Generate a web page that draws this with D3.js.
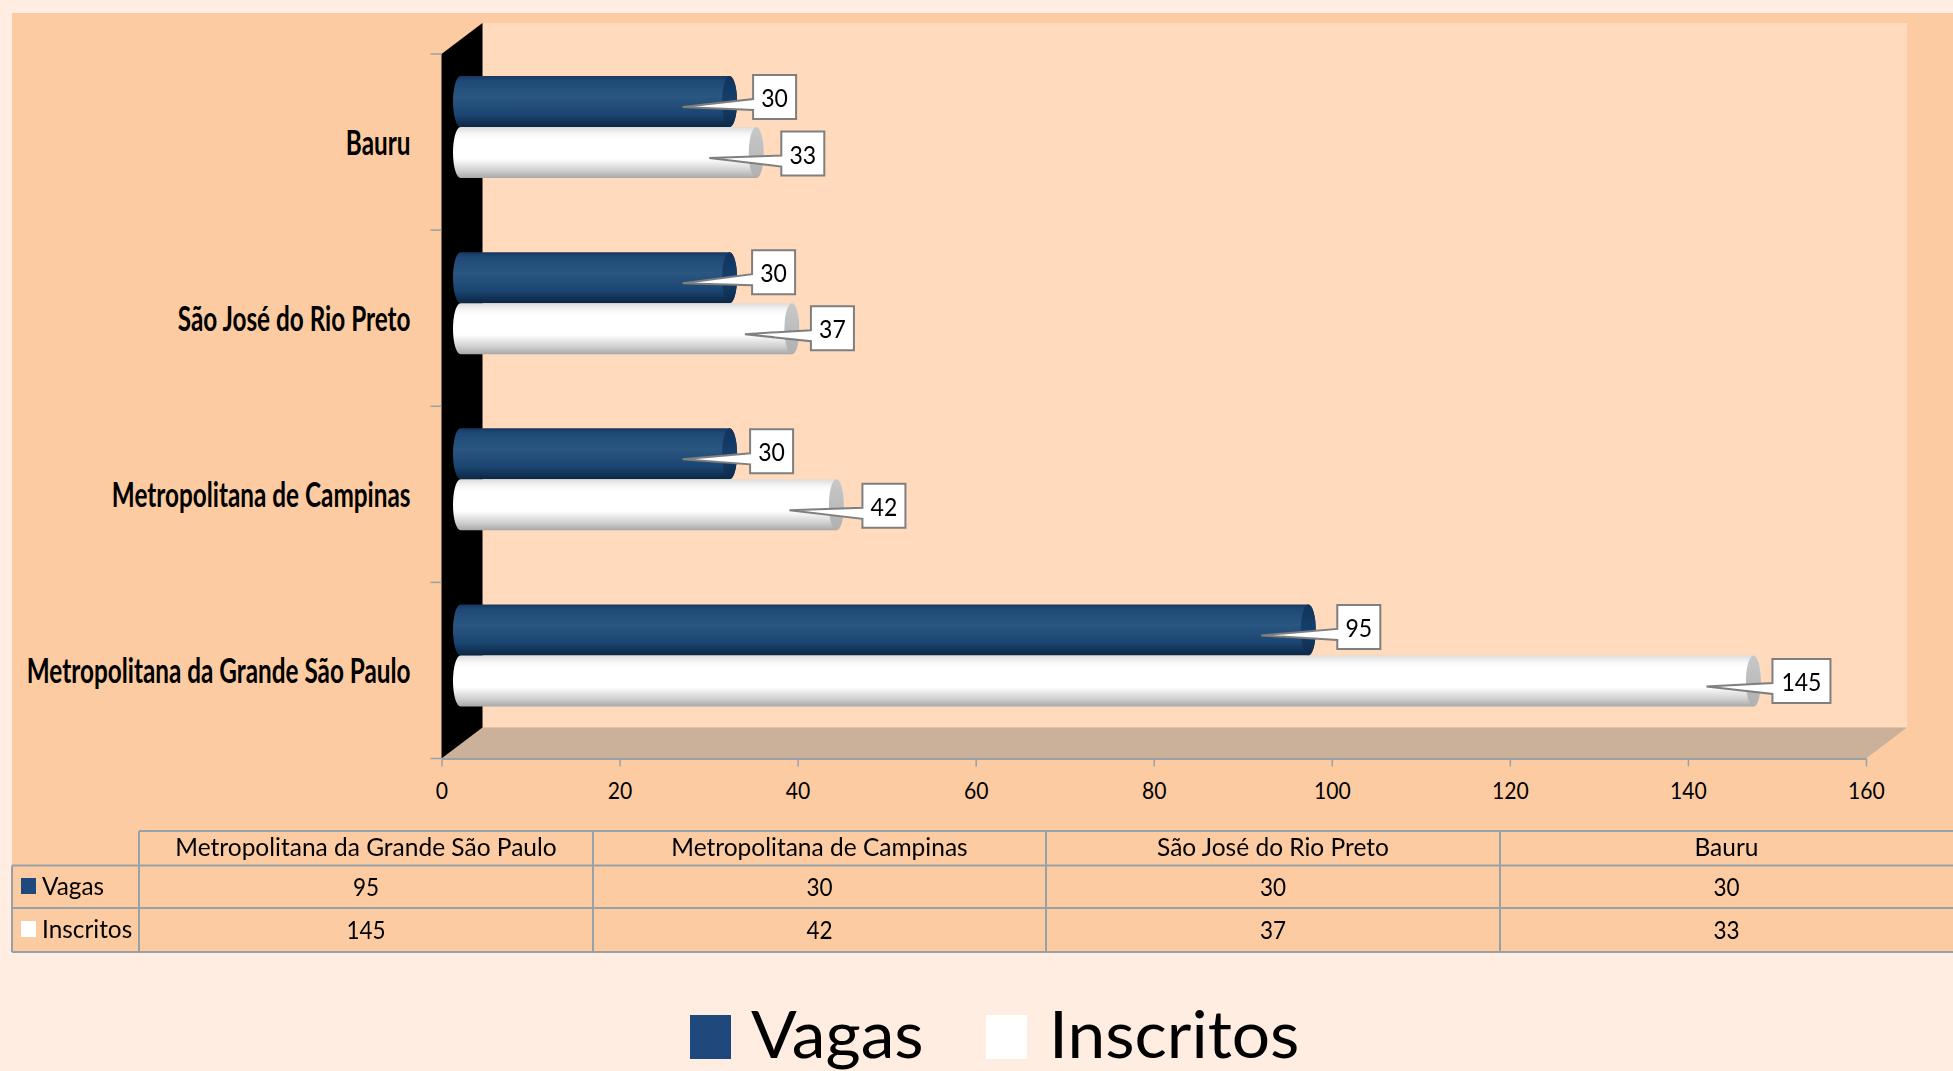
<!DOCTYPE html>
<html><head><meta charset="utf-8">
<script src="https://d3js.org/d3.v7.min.js"></script>
<style>
html,body{margin:0;padding:0;background:#FEEDE0;overflow:hidden}
svg{display:block;filter:blur(0.5px)}
text{font-family:Lato,"Open Sans",sans-serif;fill:#000}
</style></head><body><svg id="c" width="1953" height="1071"></svg>
<script>
const categories = ["Bauru","São José do Rio Preto","Metropolitana de Campinas","Metropolitana da Grande São Paulo"];
const seriesNames = ["Vagas","Inscritos"];
const vagas = [30,30,30,95];
const inscritos = [33,37,42,145];
const xTicks = [0,20,40,60,80,100,120,140,160];
const tableOrder = ["Metropolitana da Grande São Paulo","Metropolitana de Campinas","São José do Rio Preto","Bauru"];
// hand-placed callout nudges, one per bar: [box dx from value, box dy from bar centre]
const calloutVagas = [[44.5,-4.5],[43.5,-5.5],[41.5,-2.5],[50,-3]];
const calloutInscritos = [[46,1],[40,-.5],[47,1],[40,0]];

const colors = {page:"#FEEDE0",chart:"#FDCBA1",wall:"#FFDABC",floor:"#CBB09A",rule:"#98A1A8",navy:"#1F497D"};
const svg = d3.select("#c");
const defs = svg.append("defs");
function grad(id,stops){
  const g=defs.append("linearGradient").attr("id",id).attr("x1",0).attr("x2",0).attr("y1",0).attr("y2",1);
  stops.forEach(([o,c])=>g.append("stop").attr("offset",o).attr("stop-color",c));
}
grad("gVagas",[[0,"#17385f"],[.1,"#1f4a78"],[.4,"#2a5682"],[.75,"#1c4672"],[.93,"#0f2e50"],[1,"#0d2742"]]);
grad("gInscritos",[[0,"#dcdcdc"],[.14,"#f8f8f8"],[.25,"#fff"],[.62,"#fff"],[.85,"#d0d0d0"],[1,"#a8a8a8"]]);
grad("gCapV",[[0,"#10335a"],[.5,"#15406c"],[1,"#0d2a4a"]]);
grad("gCapI",[[0,"#c8c8c8"],[.5,"#bdbdbd"],[1,"#b0b0b0"]]);

const x = d3.scaleLinear().domain([0,160]).range([441.5,1866]);
const y = d3.scaleBand().domain(categories).range([54,758.5]);
const barH = 51, depthX = 41, depthY = 31;
const sub = d3.scaleBand().domain(seriesNames).range([-barH,barH]);
const x0 = x(0), yTop = y.range()[0], yBot = y.range()[1];

// backgrounds
svg.append("rect").attr("x",12).attr("y",13).attr("width",1941).attr("height",939.5).attr("fill",colors.chart);
svg.append("rect").attr("x",x0+depthX).attr("y",yTop-depthY).attr("width",x(160)-x0).attr("height",yBot-yTop).attr("fill",colors.wall);
const line=d3.line();
svg.append("path").attr("fill",colors.floor).attr("d",line([[x0,yBot],[x0+depthX,yBot-depthY],[x(160)+depthX,yBot-depthY],[x(160),yBot]])+"Z");
svg.append("path").attr("fill","#000").attr("d",line([[x0,yTop],[x0+depthX,yTop-depthY],[x0+depthX,yBot-depthY],[x0,yBot]])+"Z");

// axes
const ax = svg.append("g").attr("transform",`translate(0,${yBot})`)
  .call(d3.axisBottom(x).tickValues(xTicks).tickSize(8).tickSizeOuter(0).tickPadding(15));
ax.select(".domain").attr("stroke",colors.rule).attr("stroke-width",2);
ax.selectAll("line").attr("stroke",colors.rule).attr("stroke-width",1.5);
ax.selectAll("text").attr("font-size",24).attr("font-family","Lato").attr("fill","#000")
  .each(function(){d3.select(this).attr("textLength",this.getComputedTextLength()*.88).attr("lengthAdjust","spacingAndGlyphs")});

const ay = svg.append("g").attr("transform",`translate(${x0},0)`)
  .call(d3.axisLeft(y).tickSize(0).tickPadding(31));
ay.select(".domain").remove();
ay.selectAll("text").attr("font-size",34).attr("font-weight",700).attr("font-family","Lato").attr("fill","#000").attr("y",2)
  .each(function(){d3.select(this).attr("textLength",this.getComputedTextLength()*.715).attr("lengthAdjust","spacingAndGlyphs")});
svg.append("g").selectAll("line").data(d3.range(y.domain().length+1)).join("line")
  .attr("x1",x0-11).attr("x2",x0).attr("y1",i=>yTop+i*y.step()).attr("y2",i=>yTop+i*y.step())
  .attr("stroke",colors.rule).attr("stroke-width",1.5);

// bars
const barStart = x0+11.5, barEndOff = 28.5, capRx = 7.5;
const rows = [];
categories.forEach((c,i)=>{
  rows.push({c,s:"Vagas",v:vagas[i],off:calloutVagas[i]});
  rows.push({c,s:"Inscritos",v:inscritos[i],off:calloutInscritos[i]});
});
const barTop = d=>y(d.c)+y.bandwidth()/2-15+sub(d.s);
const bars = svg.append("g").selectAll("g").data(rows).join("g");
bars.append("path").attr("fill",d=>d.s==="Vagas"?"url(#gVagas)":"url(#gInscritos)")
  .attr("d",d=>{
    const t=barTop(d), r=x(d.v)+barEndOff-capRx, b=t+barH;
    return `M${barStart+capRx},${t}H${r}A${capRx},${barH/2} 0 0 1 ${r},${b}H${barStart+capRx}A${capRx},${barH/2} 0 0 1 ${barStart+capRx},${t}Z`;
  });
bars.append("ellipse").attr("fill",d=>d.s==="Vagas"?"url(#gCapV)":"url(#gCapI)")
  .attr("cx",d=>x(d.v)+barEndOff-capRx).attr("cy",d=>barTop(d)+barH/2).attr("rx",capRx).attr("ry",barH/2);

// callouts
const boxH = 44;
bars.each(function(d){
  const g=d3.select(this), t=barTop(d), cy=t+barH/2;
  const bw = String(d.v).length>2?58:43;
  const bx=x(d.v)+d.off[0], by=cy+d.off[1]-boxH/2;
  const tipX=x(d.v)-26, tipY=cy+5.5;
  g.append("path").attr("fill","#fff").attr("stroke","#7f7f7f").attr("stroke-width",2)
    .attr("d",line([[bx,by],[bx+bw,by],[bx+bw,by+boxH],[bx,by+boxH],[bx,by+35],[tipX,tipY],[bx,by+24]])+"Z");
  const e=g.append("text").attr("x",bx+bw/2).attr("y",by+boxH/2+10).attr("text-anchor","middle").attr("font-size",25).text(d.v);
  e.attr("textLength",e.node().getComputedTextLength()*.92).attr("lengthAdjust","spacingAndGlyphs");
});

// data table
const colX=[139,593,1046,1500,1953], rowY=[831,865.5,908,952], leftX=12;
const grid=svg.append("g").attr("stroke",colors.rule).attr("stroke-width",2);
grid.append("line").attr("x1",colX[0]).attr("x2",1953).attr("y1",rowY[0]).attr("y2",rowY[0]);
[1,2,3].forEach(i=>grid.append("line").attr("x1",leftX).attr("x2",1953).attr("y1",rowY[i]).attr("y2",rowY[i]));
colX.slice(0,4).forEach(v=>grid.append("line").attr("x1",v).attr("x2",v).attr("y1",rowY[0]).attr("y2",rowY[3]));
grid.append("line").attr("x1",leftX).attr("x2",leftX).attr("y1",rowY[1]).attr("y2",rowY[3]);
function tcell(cx,by,t,anchor,k){
  const e=svg.append("text").attr("x",cx).attr("y",by).attr("text-anchor",anchor||"middle").attr("font-size",25).text(t);
  e.attr("textLength",e.node().getComputedTextLength()*(k||.98)).attr("lengthAdjust","spacingAndGlyphs");
}
tableOrder.forEach((c,i)=>{
  const cx=(colX[i]+colX[i+1])/2, j=categories.indexOf(c);
  tcell(cx,856,c);
  tcell(cx,895.5,vagas[j],null,.9);
  tcell(cx,938.5,inscritos[j],null,.9);
});
[[seriesNames[0],878,colors.navy,895],[seriesNames[1],921,"#fff",938]].forEach(([n,sy,f,by])=>{
  svg.append("rect").attr("x",21).attr("y",sy).attr("width",15).attr("height",16).attr("fill",f);
  tcell(42,by,n,"start",.975);
});

// legend
[[seriesNames[0],690,colors.navy,751],[seriesNames[1],986,"#fff",1049]].forEach(([n,sx,f,tx])=>{
  svg.append("rect").attr("x",sx).attr("y",1015).attr("width",41).attr("height",44).attr("fill",f);
  const e=svg.append("text").attr("x",tx).attr("y",1057.5).attr("font-size",66).text(n);
  e.attr("textLength",e.node().getComputedTextLength()*1.025).attr("lengthAdjust","spacingAndGlyphs");
});
</script></body></html>
